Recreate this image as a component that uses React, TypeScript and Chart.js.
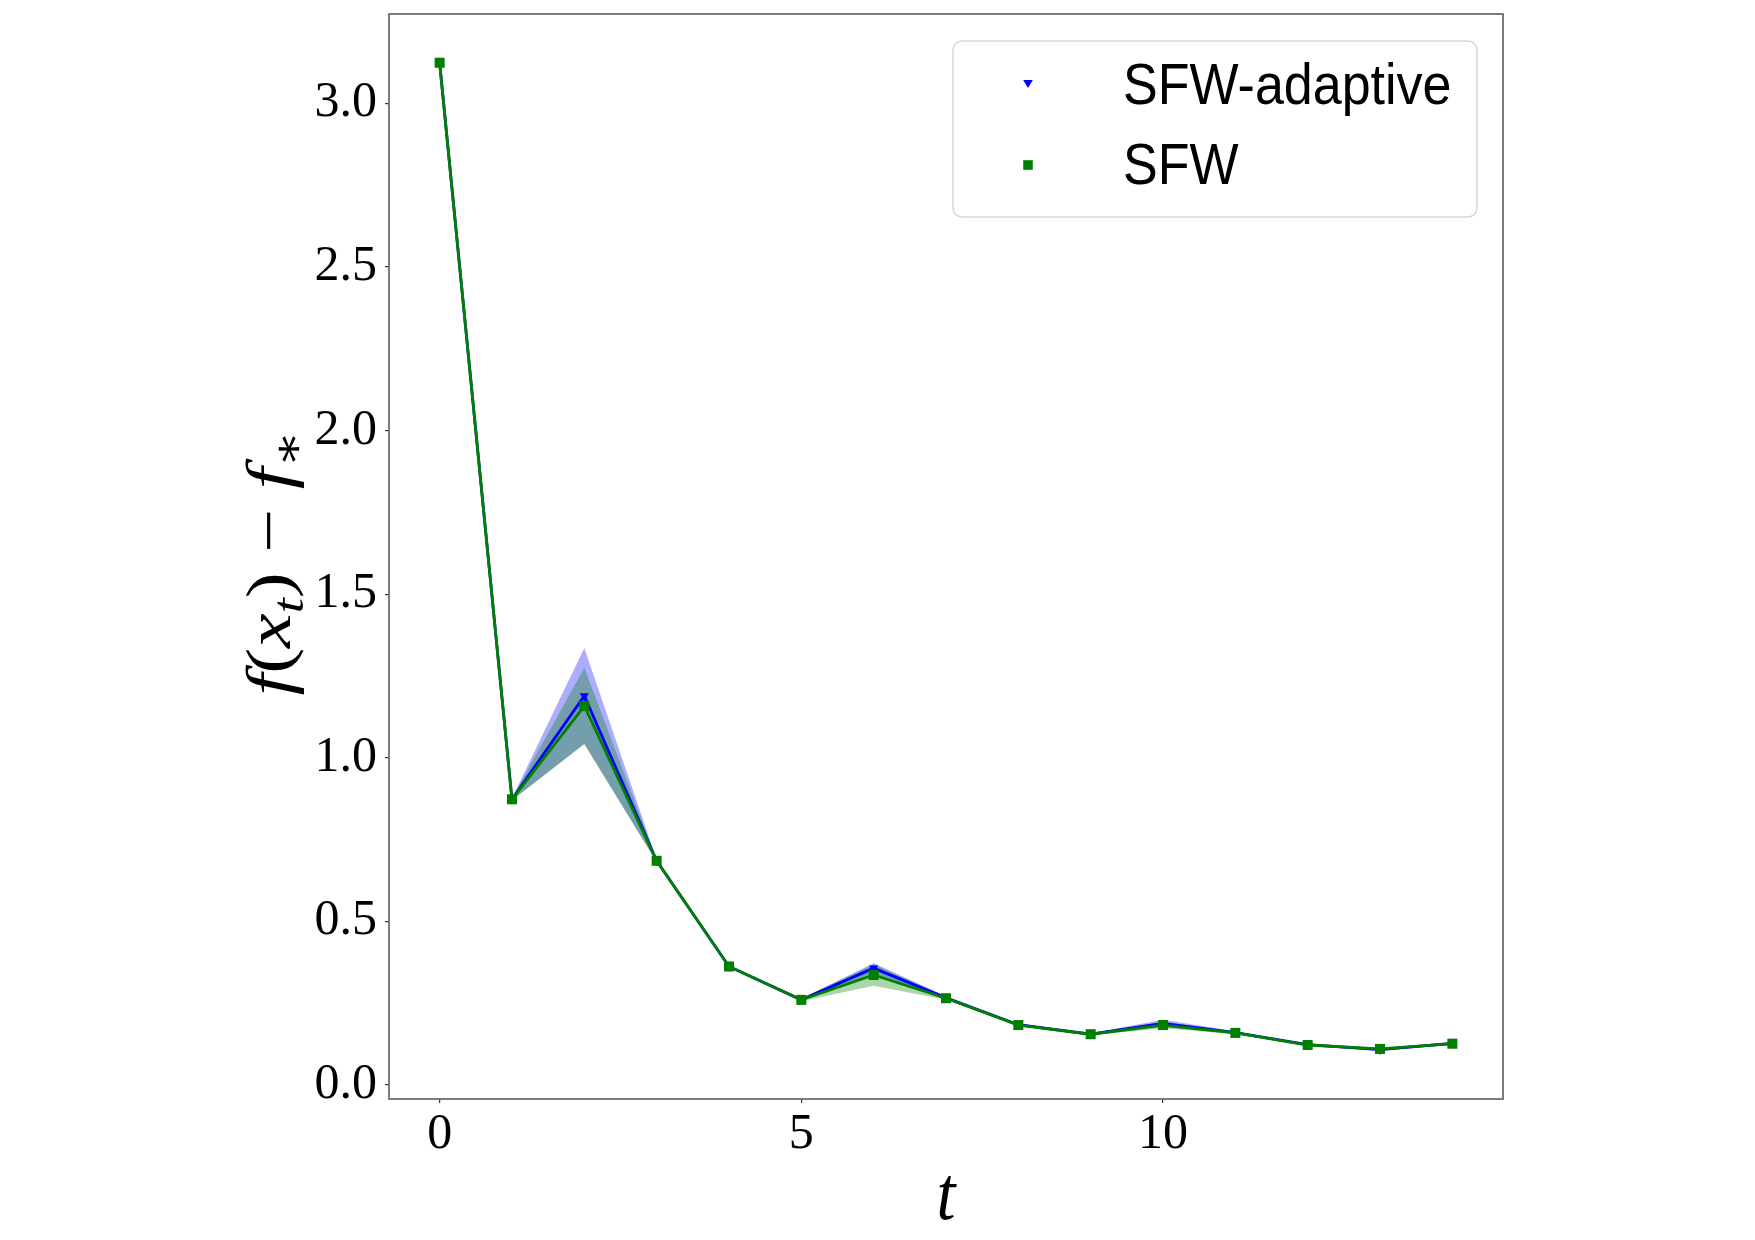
import { useEffect, useRef } from 'react';
import { Chart, registerables } from 'chart.js';

Chart.register(...registerables);

// Iteration index
const steps = [0, 1, 2, 3, 4, 5, 6, 7, 8, 9, 10, 11, 12, 13, 14];

// SFW-adaptive: mean gap and spread over runs
const adaptiveMean = [3.124, 0.873, 1.189, 0.685, 0.362, 0.26, 0.357, 0.266, 0.184, 0.155, 0.188, 0.16, 0.123, 0.108, 0.127];
const adaptiveStd = [0, 0.003, 0.146, 0.004, 0.003, 0.004, 0.015, 0.005, 0.004, 0.003, 0.011, 0.004, 0.003, 0.004, 0.004];

// SFW: mean gap and spread over runs
const sfwMean = [3.124, 0.873, 1.158, 0.685, 0.362, 0.26, 0.336, 0.265, 0.183, 0.155, 0.183, 0.159, 0.122, 0.11, 0.126];
const sfwStd = [0, 0.003, 0.117, 0.004, 0.003, 0.004, 0.033, 0.005, 0.004, 0.003, 0.01, 0.004, 0.003, 0.003, 0.004];

const xTickValues = [0, 5, 10];
const yTickValues = [0, 0.5, 1, 1.5, 2, 2.5, 3];
const legendLabels = ['SFW-adaptive', 'SFW'];

const BLUE = '#0000ff';
const GREEN = '#008000';
const SERIF = '"Liberation Serif", "DejaVu Serif", serif';
const SANS = '"Liberation Sans", Arial, sans-serif';
const V_STRETCH = 1.12;

const toPoints = (vals: number[]) => vals.map((v, i) => ({ x: steps[i], y: v }));
const shifted = (mean: number[], spread: number[], sign: number) =>
  mean.map((m, i) => m + sign * spread[i]);

type Run = { t: string; it: boolean; sub?: boolean };

const yTitleRuns: Run[] = [
  { t: 'f', it: true },
  { t: '(', it: false },
  { t: 'x', it: true },
  { t: 't', it: true, sub: true },
  { t: ')', it: false },
  { t: ' − ', it: false },
  { t: 'f', it: true },
  { t: '∗', it: false, sub: true },
];

function runFont(r: Run, size: number) {
  const s = r.sub ? size * 0.7 : size;
  return `${r.it ? 'italic ' : ''}${s}px ${SERIF}`;
}

const decorations = {
  id: 'decorations',
  afterDraw(chart: Chart) {
    const { ctx, chartArea } = chart;
    const { left, top, right, bottom } = chartArea;
    ctx.save();

    // plot frame
    ctx.strokeStyle = '#6e6e6e';
    ctx.lineWidth = 1.8;
    ctx.strokeRect(left, top, right - left, bottom - top);

    // legend
    ctx.beginPath();
    ctx.roundRect(953, 41, 524, 176, 9);
    ctx.fillStyle = 'rgba(255,255,255,0.8)';
    ctx.fill();
    ctx.strokeStyle = '#d8d8d8';
    ctx.lineWidth = 1.5;
    ctx.stroke();

    // legend markers
    const mx = 1028;
    ctx.fillStyle = BLUE;
    ctx.beginPath();
    ctx.moveTo(mx - 4.8, 80);
    ctx.lineTo(mx + 4.8, 80);
    ctx.lineTo(mx, 88);
    ctx.closePath();
    ctx.fill();
    ctx.fillStyle = GREEN;
    ctx.fillRect(mx - 4.8, 165 - 4.8, 9.6, 9.6);

    // legend text
    ctx.fillStyle = '#000';
    ctx.font = `52px ${SANS}`;
    ctx.textBaseline = 'alphabetic';
    ctx.textAlign = 'left';
    const baselines = [104, 184];
    legendLabels.forEach((lab, i) => {
      ctx.save();
      ctx.translate(1123, baselines[i]);
      ctx.scale(1, V_STRETCH);
      ctx.fillText(lab, 0, 0);
      ctx.restore();
    });

    // x-axis title
    ctx.save();
    ctx.font = `italic 68px ${SERIF}`;
    ctx.textAlign = 'center';
    ctx.translate((left + right) / 2, 1219);
    ctx.scale(1, V_STRETCH);
    ctx.fillText('t', 0, 0);
    ctx.restore();

    // y-axis title
    const size = 64;
    let total = 0;
    const widths = yTitleRuns.map((r) => {
      ctx.font = runFont(r, size);
      const w = ctx.measureText(r.t).width;
      total += w;
      return w;
    });
    const targetLen = 265;
    ctx.save();
    ctx.translate(290, 563);
    ctx.rotate(-Math.PI / 2);
    ctx.scale(targetLen / total, 1);
    ctx.textAlign = 'left';
    let cx = -total / 2;
    yTitleRuns.forEach((r, i) => {
      ctx.font = runFont(r, size);
      ctx.fillText(r.t, cx, r.sub ? size * 0.2 : 0);
      cx += widths[i];
    });
    ctx.restore();

    ctx.restore();
  },
};

export default function App() {
  const canvasRef = useRef<HTMLCanvasElement | null>(null);

  useEffect(() => {
    const canvas = canvasRef.current;
    if (!canvas) return;

    const band = {
      borderWidth: 0,
      borderColor: 'rgba(0,0,0,0)',
      pointRadius: 0,
      pointHoverRadius: 0,
    };

    const chart = new Chart(canvas, {
      type: 'line',
      data: {
        datasets: [
          {
            label: 'adaptive-upper',
            data: toPoints(shifted(adaptiveMean, adaptiveStd, 1)),
            fill: '+1',
            backgroundColor: 'rgba(0,0,255,0.32)',
            order: 6,
            ...band,
          },
          {
            label: 'adaptive-lower',
            data: toPoints(shifted(adaptiveMean, adaptiveStd, -1)),
            fill: false,
            order: 5,
            ...band,
          },
          {
            label: 'sfw-upper',
            data: toPoints(shifted(sfwMean, sfwStd, 1)),
            fill: '+1',
            backgroundColor: 'rgba(0,128,0,0.33)',
            order: 4,
            ...band,
          },
          {
            label: 'sfw-lower',
            data: toPoints(shifted(sfwMean, sfwStd, -1)),
            fill: false,
            order: 3,
            ...band,
          },
          {
            label: legendLabels[0],
            data: toPoints(adaptiveMean),
            borderColor: BLUE,
            backgroundColor: BLUE,
            borderWidth: 2.8,
            pointStyle: 'triangle',
            rotation: 180,
            pointRadius: 5.3,
            pointBorderWidth: 0,
            fill: false,
            order: 2,
          },
          {
            label: legendLabels[1],
            data: toPoints(sfwMean),
            borderColor: GREEN,
            backgroundColor: GREEN,
            borderWidth: 2.8,
            pointStyle: 'rect',
            pointRadius: 7.1,
            pointBorderWidth: 0,
            fill: false,
            order: 1,
          },
        ],
      },
      options: {
        responsive: false,
        animation: false,
        devicePixelRatio: 1,
        layout: { padding: { left: 0, top: 14, right: 252, bottom: 0 } },
        plugins: {
          legend: { display: false },
          tooltip: { enabled: false },
        },
        elements: { line: { tension: 0 } },
        scales: {
          x: {
            type: 'linear',
            min: -0.7,
            max: 14.7,
            afterBuildTicks: (s: any) => {
              s.ticks = xTickValues.map((v) => ({ value: v }));
            },
            afterFit: (s: any) => {
              s.height = 141;
              s.paddingLeft = 0;
              s.paddingRight = 0;
            },
            grid: {
              display: true,
              drawOnChartArea: false,
              drawTicks: true,
              tickLength: 4,
              color: '#333',
              lineWidth: 1.2,
            },
            border: { display: false },
            ticks: {
              color: '#000',
              font: { family: SERIF, size: 50 },
              padding: 2,
              maxRotation: 0,
              autoSkip: false,
              callback: (v: any) => String(v),
            },
          },
          y: {
            type: 'linear',
            min: -0.043,
            max: 3.273,
            afterBuildTicks: (s: any) => {
              s.ticks = yTickValues.map((v) => ({ value: v }));
            },
            afterFit: (s: any) => {
              s.width = 389;
              s.paddingTop = 0;
              s.paddingBottom = 0;
            },
            grid: {
              display: true,
              drawOnChartArea: false,
              drawTicks: true,
              tickLength: 4,
              color: '#333',
              lineWidth: 1.2,
            },
            border: { display: false },
            ticks: {
              color: '#000',
              font: { family: SERIF, size: 50 },
              padding: 8,
              autoSkip: false,
              callback: (v: any) => Number(v).toFixed(1),
            },
          },
        },
      },
      plugins: [decorations],
    });

    return () => chart.destroy();
  }, []);

  return (
    <div style={{ position: 'fixed', left: 0, top: 0, width: 1755, height: 1240, background: '#fff' }}>
      <canvas ref={canvasRef} width={1755} height={1240} style={{ display: 'block' }} />
    </div>
  );
}
